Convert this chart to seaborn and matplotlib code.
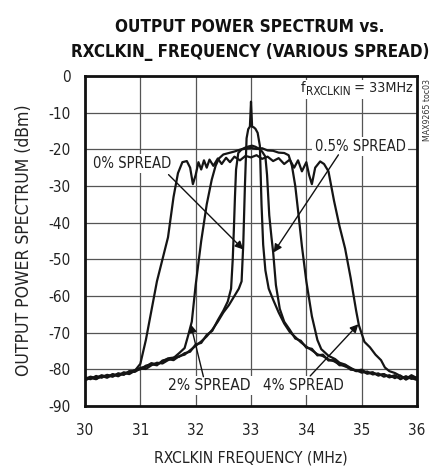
import matplotlib
matplotlib.use("Agg")
import matplotlib.pyplot as plt
from matplotlib import font_manager as fm
from matplotlib.patches import Rectangle
from matplotlib.transforms import IdentityTransform
import seaborn as sns
import pandas as pd

# ---------------- data ----------------
f_0 = [30.0, 30.1, 30.2, 30.3, 30.4, 30.5, 30.6, 30.7, 30.8, 30.9, 31.0, 31.1, 31.2, 31.3,
       31.4, 31.5, 31.6, 31.7, 31.8, 31.9, 32.0, 32.1, 32.2, 32.3, 32.4, 32.5, 32.6, 32.7,
       32.78, 32.83, 32.86, 32.89, 32.92, 32.95, 32.98, 33.0, 33.02, 33.05, 33.08, 33.12,
       33.16, 33.19, 33.22, 33.26, 33.32, 33.4, 33.5, 33.6, 33.7, 33.8, 33.9, 34.0, 34.1,
       34.2, 34.3, 34.4, 34.5, 34.6, 34.7, 34.8, 34.9, 35.0, 35.1, 35.2, 35.3, 35.4, 35.5,
       35.6, 35.7, 35.8, 35.9, 36.0]
db_0 = [-82.6, -82.0, -82.4, -81.6, -82.1, -81.3, -81.7, -80.8, -81.1, -80.2, -80.0, -79.0, -78.6, -78.9,
        -77.6, -77.2, -77.5, -76.4, -76.0, -74.8, -73.6, -72.4, -71.0, -69.2, -67.0, -64.5, -62.5, -60.0,
        -58.0, -56.0, -46.0, -30.0, -17.0, -14.5, -13.8, -7.0, -13.8, -14.0, -14.4, -15.5,
        -19.0, -35.0, -46.0, -53.0, -58.0, -61.0, -64.5, -67.5, -69.8, -71.2, -72.6, -73.8, -74.8,
        -75.9, -76.4, -77.3, -77.8, -78.6, -79.2, -79.8, -80.5, -80.4, -81.2, -80.9, -81.6, -81.3, -82.2,
        -81.8, -82.5, -81.9, -82.6, -82.2]

f_05 = [30.0, 30.1, 30.2, 30.3, 30.4, 30.5, 30.6, 30.7, 30.8, 30.9, 31.0, 31.1, 31.2, 31.3,
        31.4, 31.5, 31.6, 31.7, 31.8, 31.9, 32.0, 32.1, 32.2, 32.3, 32.4, 32.5, 32.58, 32.64,
        32.67, 32.69, 32.71, 32.73, 32.77, 32.83, 32.9, 32.96, 33.02, 33.08, 33.14, 33.2,
        33.26, 33.29, 33.33, 33.37, 33.4, 33.45, 33.52, 33.6, 33.7, 33.8, 33.9, 34.0, 34.1,
        34.2, 34.3, 34.4, 34.5, 34.6, 34.7, 34.8, 34.9, 35.0, 35.1, 35.2, 35.3, 35.4, 35.5,
        35.6, 35.7, 35.8, 35.9, 36.0]
db_05 = [-82.2, -82.7, -81.8, -82.3, -81.5, -81.9, -81.1, -81.4, -80.6, -80.4, -79.6, -79.3, -78.3, -78.7,
         -77.9, -77.0, -76.8, -76.6, -75.6, -75.2, -73.2, -72.8, -70.6, -69.5, -66.6, -64.0, -61.5, -58.0,
         -50.0, -42.0, -33.0, -25.5, -21.0, -20.0, -19.5, -19.2, -19.0, -19.3, -19.8, -20.6,
         -22.0, -27.0, -38.0, -44.0, -48.0, -57.0, -63.5, -67.0, -69.2, -71.6, -72.2, -74.1, -74.4,
         -76.2, -76.0, -77.6, -77.5, -78.9, -78.8, -80.1, -80.2, -80.9, -80.6, -81.4, -81.1, -82.0, -81.6,
         -82.4, -81.7, -82.8, -82.0, -82.5]

f_2 = [30.0, 30.1, 30.2, 30.3, 30.4, 30.5, 30.6, 30.7, 30.8, 30.9, 31.0, 31.1, 31.2, 31.3,
       31.4, 31.5, 31.6, 31.7, 31.8, 31.86, 31.93, 32.0, 32.1, 32.2, 32.29, 32.36, 32.42, 32.5,
       32.6, 32.7, 32.8, 32.9, 33.0, 33.1, 33.2, 33.3, 33.4, 33.5, 33.6, 33.68, 33.74, 33.8,
       33.86, 33.92, 34.0, 34.1, 34.2, 34.27, 34.4, 34.52, 34.6, 34.7, 34.8, 34.9, 35.0, 35.1,
       35.2, 35.3, 35.4, 35.5, 35.6, 35.7, 35.8, 35.9, 36.0]
db_2 = [-82.9, -82.2, -82.6, -81.9, -81.7, -82.0, -81.2, -81.5, -80.5, -80.7, -79.8, -79.9, -78.9, -78.2,
        -78.4, -77.5, -76.9, -75.6, -74.2, -71.0, -67.0, -57.0, -45.0, -35.0, -28.3, -24.5, -22.5, -21.4,
        -21.0, -20.6, -20.1, -19.8, -19.6, -19.9, -19.7, -20.3, -20.4, -20.9, -21.0, -21.6, -24.5, -30.0,
        -38.0, -46.4, -56.0, -65.5, -72.0, -74.5, -76.3, -77.2, -78.2, -78.7, -79.6, -80.4, -80.1, -81.0,
        -80.8, -81.7, -81.3, -82.1, -81.6, -82.7, -82.0, -82.4, -82.9]

f_4 = [30.0, 30.1, 30.2, 30.3, 30.4, 30.5, 30.6, 30.7, 30.8, 30.9, 31.0, 31.1, 31.2, 31.3,
       31.4, 31.5, 31.6, 31.68, 31.76, 31.84, 31.9, 31.95, 32.0, 32.05, 32.1, 32.15, 32.2,
       32.25, 32.32, 32.4, 32.47, 32.55, 32.62, 32.7, 32.8, 32.9, 33.0, 33.1, 33.2, 33.3,
       33.4, 33.5, 33.6, 33.7, 33.78, 33.85, 33.92, 34.0, 34.05, 34.1, 34.16, 34.25, 34.32,
       34.4, 34.5, 34.6, 34.7, 34.8, 34.9, 34.95, 35.05, 35.15, 35.25, 35.35, 35.42, 35.5,
       35.6, 35.7, 35.8, 35.9, 36.0]
db_4 = [-83.0, -82.3, -82.7, -81.8, -82.3, -81.4, -81.9, -81.0, -81.3, -80.4, -78.5, -72.0, -64.0, -56.0,
        -50.0, -44.0, -33.0, -26.5, -23.5, -23.2, -25.0, -29.5, -27.0, -23.5, -25.5, -23.0, -25.0,
        -22.8, -24.5, -22.5, -24.0, -22.3, -23.5, -22.0, -23.0, -21.8, -22.2, -21.6, -22.6, -22.0,
        -23.2, -22.4, -24.0, -22.8, -25.0, -23.0, -26.0, -23.5, -27.0, -29.5, -25.0, -23.3, -24.0,
        -26.0, -34.0, -41.0, -47.0, -55.0, -64.0, -68.0, -72.5, -74.0, -76.0, -77.5, -79.5, -80.5,
        -81.0, -81.8, -82.6, -81.6, -82.4]

series_names = ["0% SPREAD", "0.5% SPREAD", "2% SPREAD", "4% SPREAD"]

x_ticks = [30, 31, 32, 33, 34, 35, 36]
y_ticks = [0, -10, -20, -30, -40, -50, -60, -70, -80, -90]

title_line1 = "OUTPUT POWER SPECTRUM vs."
title_line2 = "RXCLKIN_ FREQUENCY (VARIOUS SPREAD)"
x_label = "RXCLKIN FREQUENCY (MHz)"
y_label = "OUTPUT POWER SPECTRUM (dBm)"

# ---------------- font choice (narrowest installed sans) ----------------
entries = fm.fontManager.ttflist


def _has(name, stretch=None):
    for e in entries:
        if e.name == name and (stretch is None or str(e.stretch) in stretch):
            return True
    return False


if _has("Liberation Sans Narrow"):
    FAM, STRETCH = "Liberation Sans Narrow", "normal"
elif _has("DejaVu Sans", ("condensed", "semi-condensed", "75", "87")):
    FAM, STRETCH = "DejaVu Sans", "condensed"
elif _has("Roboto Condensed"):
    FAM, STRETCH = "Roboto Condensed", "normal"
elif _has("Roboto"):
    FAM, STRETCH = "Roboto", "normal"
else:
    FAM, STRETCH = "Liberation Sans", "normal"

# ---------------- frame ----------------
frames = []
for name, fx, dy in zip(series_names, [f_0, f_05, f_2, f_4], [db_0, db_05, db_2, db_4]):
    frames.append(pd.DataFrame({"freq": fx, "db": dy, "series": name}))
df = pd.concat(frames, ignore_index=True)

sns.set_theme(style="white")
plt.rcParams["font.family"] = [FAM, "DejaVu Sans"]
plt.rcParams["font.stretch"] = STRETCH

W, H = 434, 466
fig = plt.figure(figsize=(W / 100, H / 100), dpi=100)
ax = fig.add_axes([85 / W, 1 - 406 / H, 332 / W, 330 / H])

sns.lineplot(data=df, x="freq", y="db", units="series", estimator=None, sort=False,
             color="#151515", linewidth=1.6, ax=ax, legend=False)

TXT = "#222222"
ax.set_xlim(30, 36)
ax.set_ylim(-90, 0)
ax.set_xticks(x_ticks)
ax.set_yticks(y_ticks)
ax.set_xticklabels([str(t) for t in x_ticks])
ax.set_yticklabels([str(t) for t in y_ticks])
ax.tick_params(axis="both", length=0, colors=TXT)
ax.tick_params(axis="x", pad=12.5)
ax.tick_params(axis="y", pad=10.5)
ax.grid(True, color="#555555", linewidth=0.9)
ax.set_axisbelow(True)
for s in ax.spines.values():
    s.set_visible(True)
    s.set_color("#111111")
    s.set_linewidth(2.0)

renderer = fig.canvas.get_renderer()


def fit(t, target, vertical=False):
    bb = t.get_window_extent(renderer)
    cur = bb.height if vertical else bb.width
    if cur > 0:
        t.set_fontsize(t.get_fontsize() * target / cur)


# tick label size from a probe: "-10" is about 22 px wide in the reference
probe = fig.text(0, 0, "-10", fontsize=12)
fit(probe, 22.5)
TICK = probe.get_fontsize()
probe.remove()
ax.tick_params(axis="both", labelsize=TICK)

# titles
t1 = fig.text(250 / W, 1 - 32 / H, title_line1, ha="center", va="baseline", fontsize=15,
              fontweight="bold", color="#111111")
t2 = fig.text(250 / W, 1 - 57 / H, title_line2, ha="center", va="baseline", fontsize=15,
              fontweight="bold", color="#111111")
fit(t1, 270)
fit(t2, 358)

# axis labels (real axis labels, placed by axes coordinates)
ax.set_xlabel(x_label, fontsize=TICK, color=TXT)
ax.set_ylabel(y_label, fontsize=TICK, color=TXT)
fit(ax.xaxis.label, 193)
fit(ax.yaxis.label, 272, vertical=True)
ax.xaxis.label.set_verticalalignment("center")
ax.yaxis.label.set_verticalalignment("center")
ax.xaxis.set_label_coords((251 - 85) / 332, (406 - 458) / 330)
ax.yaxis.set_label_coords((24 - 85) / 332, (406 - 240) / 330)

box = dict(facecolor="white", edgecolor="none", pad=1.5)
labels = [
    ("0% SPREAD", 30.85, -23.8, 78),
    ("0.5% SPREAD", 34.97, -19.3, 91),
    ("2% SPREAD", 32.25, -84.5, 82),
    ("4% SPREAD", 33.95, -84.5, 80),
]
for txt, x, y, w in labels:
    t = ax.text(x, y, txt, ha="center", va="center", fontsize=TICK, color=TXT, bbox=box, zorder=5)
    fit(t, w)

# f_RXCLKIN = 33MHz  (three texts sharing one baseline, subscript smaller and lower)
BASE_X, BASE_Y = 35.93, -4.4
ta = fig.text(0, 0, " = 33MHz", ha="right", va="baseline", fontsize=TICK, color=TXT,
              transform=IdentityTransform(), zorder=6)
fit(ta, 63)
bx, by = ax.transData.transform((BASE_X, BASE_Y))
ta.set_position((bx, by))
fig.canvas.draw()
bba = ta.get_window_extent(renderer)
tb = fig.text(bba.x0, by - 3, "RXCLKIN", ha="right", va="baseline",
              fontsize=ta.get_fontsize() * 0.82, color=TXT, transform=IdentityTransform(),
              zorder=6)
fig.canvas.draw()
bbb = tb.get_window_extent(renderer)
tc = fig.text(bbb.x0 - 0.5, by, "f", ha="right", va="baseline", fontsize=ta.get_fontsize(),
              color=TXT, transform=IdentityTransform(), zorder=6)
fig.canvas.draw()
bbc = tc.get_window_extent(renderer)
x0 = bbc.x0 - 2
x1 = bba.x1 + 2
y0 = min(bba.y0, bbb.y0, bbc.y0) - 1
y1 = max(bba.y1, bbb.y1, bbc.y1) + 1
fig.patches.append(Rectangle((x0, y0), x1 - x0, y1 - y0, transform=IdentityTransform(),
                             facecolor="white", edgecolor="none", zorder=5))

fig.text(427 / W, 1 - 110 / H, "MAX9265 toc03", rotation=90, ha="center", va="center",
         fontsize=6.3, color="#333333")

arrow = dict(arrowstyle="-|>", color="#111111", lw=1.0, mutation_scale=12, shrinkA=0, shrinkB=0)
ax.annotate("", xy=(32.86, -47.3), xytext=(31.51, -26.9), arrowprops=arrow, zorder=6)
ax.annotate("", xy=(33.41, -48.1), xytext=(34.58, -21.5), arrowprops=arrow, zorder=6)
ax.annotate("", xy=(31.91, -67.7), xytext=(32.14, -82.0), arrowprops=arrow, zorder=6)
ax.annotate("", xy=(34.94, -67.7), xytext=(34.07, -81.8), arrowprops=arrow, zorder=6)

fig.savefig("out.png", dpi=100)
